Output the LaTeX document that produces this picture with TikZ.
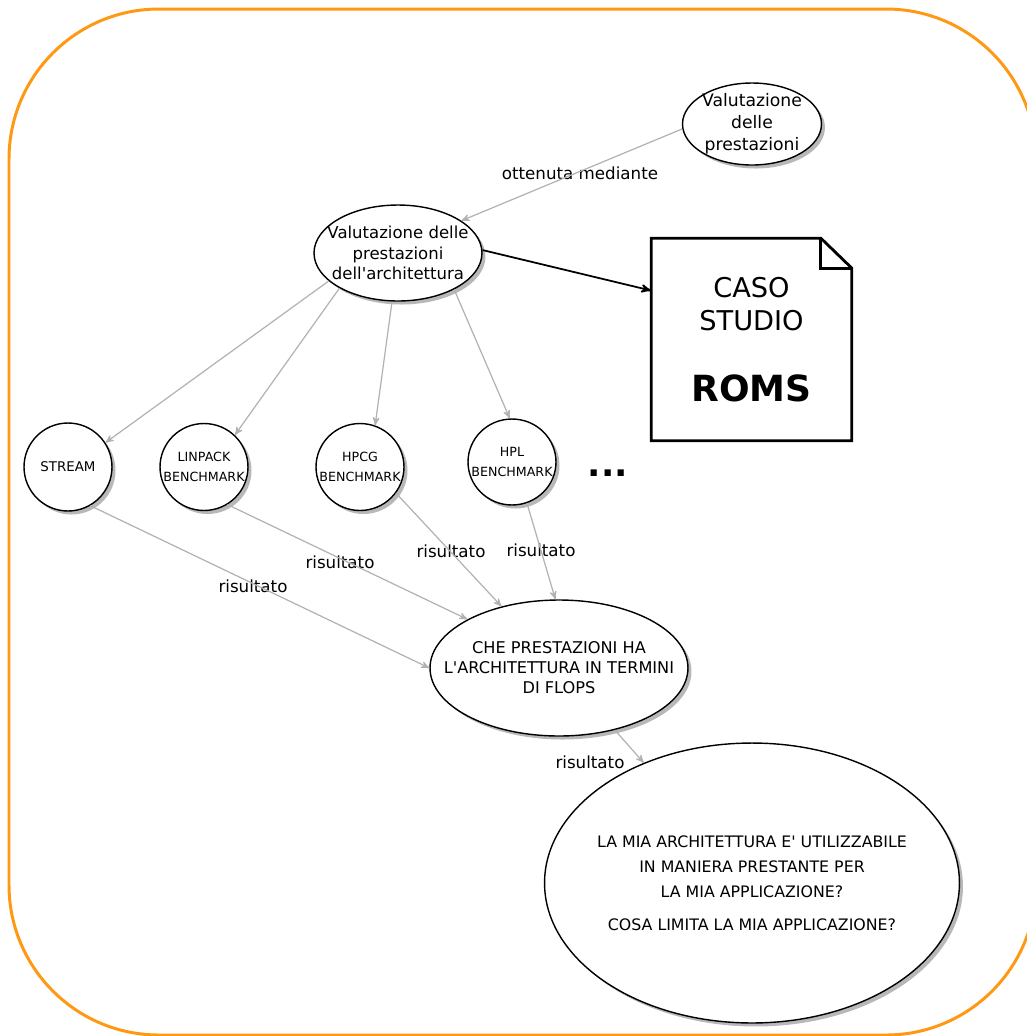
\documentclass[tikz,border=0pt]{standalone}
\usepackage{fontspec}
\newfontfamily\dejavu{DejaVu Sans}
\usetikzlibrary{shapes}
\usetikzlibrary{arrows}
\usetikzlibrary{shadows}
\definecolor{frameorange}{RGB}{255,153,20}
\tikzset{
  bubble/.style={ellipse,draw=black,line width=0.8pt,fill=white,inner sep=-2cm,align=center,
    drop shadow={shadow xshift=2pt,shadow yshift=-2pt,fill=black!28,opacity=1}},
  link/.style={->,>=stealth',draw=black!30,line width=0.7pt},
  tag/.style={font=\fontsize{9.5}{11}\selectfont},
}

\begin{document}
\dejavu
\begin{tikzpicture}[x=0.02cm,y=-0.02cm]
    \useasboundingbox (0,0) rectangle (1027,1036);
    % Frame
    \draw[line width=1.7pt,frameorange,rounded corners=3cm] (9,9) rectangle (1036,1035);
    % Top of the chain
    \node[bubble,minimum width=2.78cm,minimum height=1.64cm,font=\fontsize{9.8}{12.5}\selectfont] (prest) at (752,124) {Valutazione\\delle\\prestazioni};
    \node[bubble,minimum width=3.36cm,minimum height=1.92cm,font=\fontsize{9.4}{11.8}\selectfont] (arch) at (398,253) {Valutazione delle\\prestazioni\\dell'architettura};
    \node[tag] (lblmed) at (580,173) {ottenuta mediante};
    % Case study sheet
    \node[minimum width=4cm,minimum height=4.04cm,inner sep=0pt,align=center,font=\fontsize{15.5}{18.5}\selectfont] (caso) at (751.5,339.5)
      {CASO\\STUDIO\\[22pt]{\bfseries\fontsize{20.5}{24}\selectfont ROMS}};
    \draw[line width=1.6pt,line join=miter] (caso.north west) -- ([xshift=-0.62cm]caso.north east)
      -- ([yshift=-0.6cm]caso.north east) -- (caso.south east) -- (caso.south west) -- cycle;
    \draw[line width=1.6pt,line join=miter] ([xshift=-0.62cm]caso.north east) -- ++(0,-0.6cm)
      -- ([yshift=-0.6cm]caso.north east);
    % Benchmarks
    \node[bubble,minimum width=1.76cm,minimum height=1.76cm,font=\fontsize{7.6}{10}\selectfont] (stream) at (68,467) {STREAM};
    \node[bubble,minimum width=1.76cm,minimum height=1.74cm,font=\fontsize{7.2}{11}\selectfont] (linpack) at (204,467) {LINPACK\\BENCHMARK};
    \node[bubble,minimum width=1.76cm,minimum height=1.74cm,font=\fontsize{7.2}{11}\selectfont] (hpcg) at (360,467) {HPCG\\BENCHMARK};
    \node[bubble,minimum width=1.76cm,minimum height=1.72cm,font=\fontsize{7.2}{11}\selectfont] (hpl) at (512,462) {HPL\\BENCHMARK};
    \node[anchor=base,font=\bfseries\fontsize{20}{20}\selectfont] (dots) at (608,476) {...};
    % Results
    \node[bubble,minimum width=5.16cm,minimum height=2.72cm,font=\fontsize{9.2}{11.4}\selectfont] (flops) at (559,668)
      {CHE PRESTAZIONI HA\\L'ARCHITETTURA IN TERMINI\\DI FLOPS};
    \node[bubble,minimum width=8.3cm,minimum height=5.6cm,font=\fontsize{9}{14.3}\selectfont] (appl) at (752,883)
      {LA MIA ARCHITETTURA E' UTILIZZABILE\\IN MANIERA PRESTANTE PER\\LA MIA APPLICAZIONE?\\[4.5pt]COSA LIMITA LA MIA APPLICAZIONE?};
    \node[tag] (lblstream) at (253,586) {risultato};
    \node[tag] (lbllinpack) at (340,562) {risultato};
    \node[tag] (lblhpcg) at (451,551) {risultato};
    \node[tag] (lblhpl) at (541,550) {risultato};
    \node[tag] (lblflops) at (590,762) {risultato};
    % Arrows
    \draw[link] (prest.184) -- (arch.27);
    \draw[->,>=stealth',line width=1pt,black] (arch.2) -- (caso.154);
    \draw[link] (arch.202) -- (stream.33);
    \draw[link] (arch.211) -- (linpack.46);
    \draw[link] (arch.263) -- (hpcg.70);
    \draw[link] (arch.327) -- (hpl.93);
    \draw[link] (stream.300) -- (flops.180);
    \draw[link] (linpack.302) -- (flops.152);
    \draw[link] (hpcg.324) -- (flops.133);
    \draw[link] (hpl.290) -- (flops.93);
    \draw[link] (flops.312) -- (appl.132);
\end{tikzpicture}
\end{document}
